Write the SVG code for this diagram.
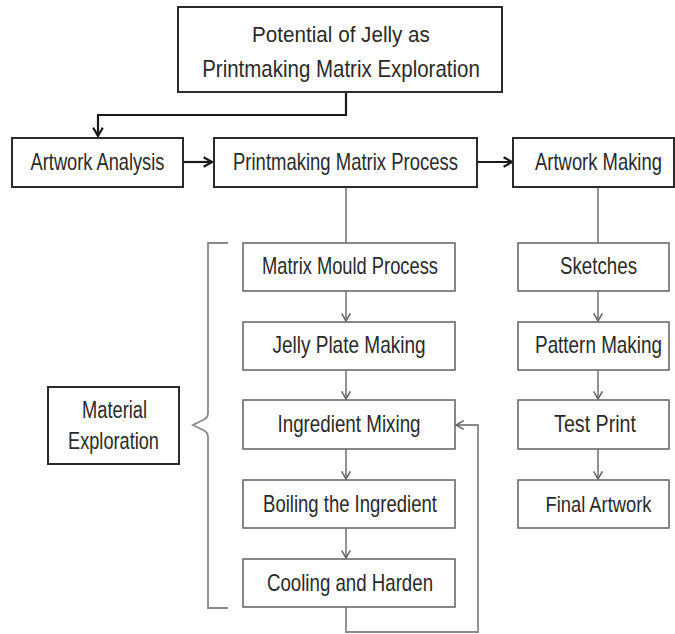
<svg xmlns="http://www.w3.org/2000/svg" width="675" height="634" viewBox="0 0 675 634">
<defs>
<style>
text{font-family:"Liberation Sans",Arial,sans-serif;font-size:23px;fill:#2a2a2a;text-anchor:middle}
.main{fill:#fff;stroke:#2b2b2b;stroke-width:2}
.sub{fill:#fff;stroke:#6a6a6a;stroke-width:1.6}
.blk{fill:none;stroke:#1a1a1a;stroke-width:2.2}
.gry{fill:none;stroke:#888;stroke-width:1.8}
</style>
<marker id="ag" viewBox="0 0 10 10" refX="9" refY="5" markerWidth="11" markerHeight="11" orient="auto" markerUnits="userSpaceOnUse">
<path d="M2,1 L9,5 L2,9" fill="none" stroke="#666" stroke-width="1.4"/>
</marker>
<marker id="ab2" viewBox="0 0 10 10" refX="9" refY="5" markerWidth="12" markerHeight="12" orient="auto" markerUnits="userSpaceOnUse">
<path d="M2,1 L9,5 L2,9" fill="none" stroke="#1a1a1a" stroke-width="1.8"/>
</marker>
</defs>
<rect width="675" height="634" fill="#fff"/>

<g id="connectors">
<path class="blk" d="M346,92 V115 H98 V136" marker-end="url(#ab2)"/>
<path class="blk" d="M183,162 H212" marker-end="url(#ab2)"/>
<path class="blk" d="M477,162 H512" marker-end="url(#ab2)"/>
<path class="gry" d="M346,187 V243"/>
<path class="gry" d="M598,187 V243"/>
<path class="gry" d="M346,291 V321" marker-end="url(#ag)"/>
<path class="gry" d="M346,370 V399" marker-end="url(#ag)"/>
<path class="gry" d="M346,449 V479" marker-end="url(#ag)"/>
<path class="gry" d="M346,528 V558" marker-end="url(#ag)"/>
<path class="gry" d="M346,607 V632 H478 V425 H456" marker-end="url(#ag)"/>
<path class="gry" d="M598,291 V321" marker-end="url(#ag)"/>
<path class="gry" d="M598,370 V399" marker-end="url(#ag)"/>
<path class="gry" d="M598,449 V479" marker-end="url(#ag)"/>
<path class="gry" d="M228,243 H208 V413 Q208,418 203,420 L193,425 L203,430 Q208,432 208,437 V608 H228"/>
</g>

<g id="n-top">
<rect class="main" x="178" y="7" width="324" height="85" stroke-width="2.4"/>
<text transform="translate(341,42) scale(0.898,1)">Potential of Jelly as</text>
<text transform="translate(341,77) scale(0.891,1)">Printmaking Matrix Exploration</text>
</g>
<g id="n-analysis">
<rect class="main" x="12" y="138" width="171" height="49"/>
<text transform="translate(97.5,170) scale(0.794,1)">Artwork Analysis</text>
</g>
<g id="n-process">
<rect class="main" x="214" y="138" width="263" height="49"/>
<text transform="translate(345.5,170) scale(0.804,1)">Printmaking Matrix Process</text>
</g>
<g id="n-making">
<rect class="main" x="513" y="138" width="161" height="49"/>
<text transform="translate(598.5,170) scale(0.801,1)">Artwork Making</text>
</g>

<g id="n-mould">
<rect class="sub" x="243" y="243" width="212" height="48"/>
<text transform="translate(350,274) scale(0.796,1)">Matrix Mould Process</text>
</g>
<g id="n-jelly">
<rect class="sub" x="243" y="322" width="212" height="48"/>
<text transform="translate(349,353) scale(0.827,1)">Jelly Plate Making</text>
</g>
<g id="n-mixing">
<rect class="sub" x="243" y="400" width="212" height="49"/>
<text transform="translate(349,432) scale(0.817,1)">Ingredient Mixing</text>
</g>
<g id="n-boiling">
<rect class="sub" x="243" y="480" width="212" height="48"/>
<text transform="translate(350,512) scale(0.805,1)">Boiling the Ingredient</text>
</g>
<g id="n-cooling">
<rect class="sub" x="243" y="559" width="212" height="48"/>
<text transform="translate(350,591) scale(0.812,1)">Cooling and Harden</text>
</g>

<g id="n-material">
<rect class="main" x="48" y="387" width="131" height="77" stroke-width="1.8"/>
<text transform="translate(114.5,418) scale(0.795,1)">Material</text>
<text transform="translate(113.5,449) scale(0.791,1)">Exploration</text>
</g>

<g id="n-sketches">
<rect class="sub" x="518" y="243" width="151" height="48"/>
<text transform="translate(598.5,274) scale(0.814,1)">Sketches</text>
</g>
<g id="n-pattern">
<rect class="sub" x="518" y="322" width="151" height="48"/>
<text transform="translate(598.5,353) scale(0.821,1)">Pattern Making</text>
</g>
<g id="n-test">
<rect class="sub" x="518" y="400" width="151" height="49"/>
<text transform="translate(595,432) scale(0.854,1)">Test Print</text>
</g>
<g id="n-final">
<rect class="sub" x="518" y="480" width="151" height="48"/>
<text transform="translate(598.5,512) scale(0.797,1)">Final Artwork</text>
</g>
</svg>
